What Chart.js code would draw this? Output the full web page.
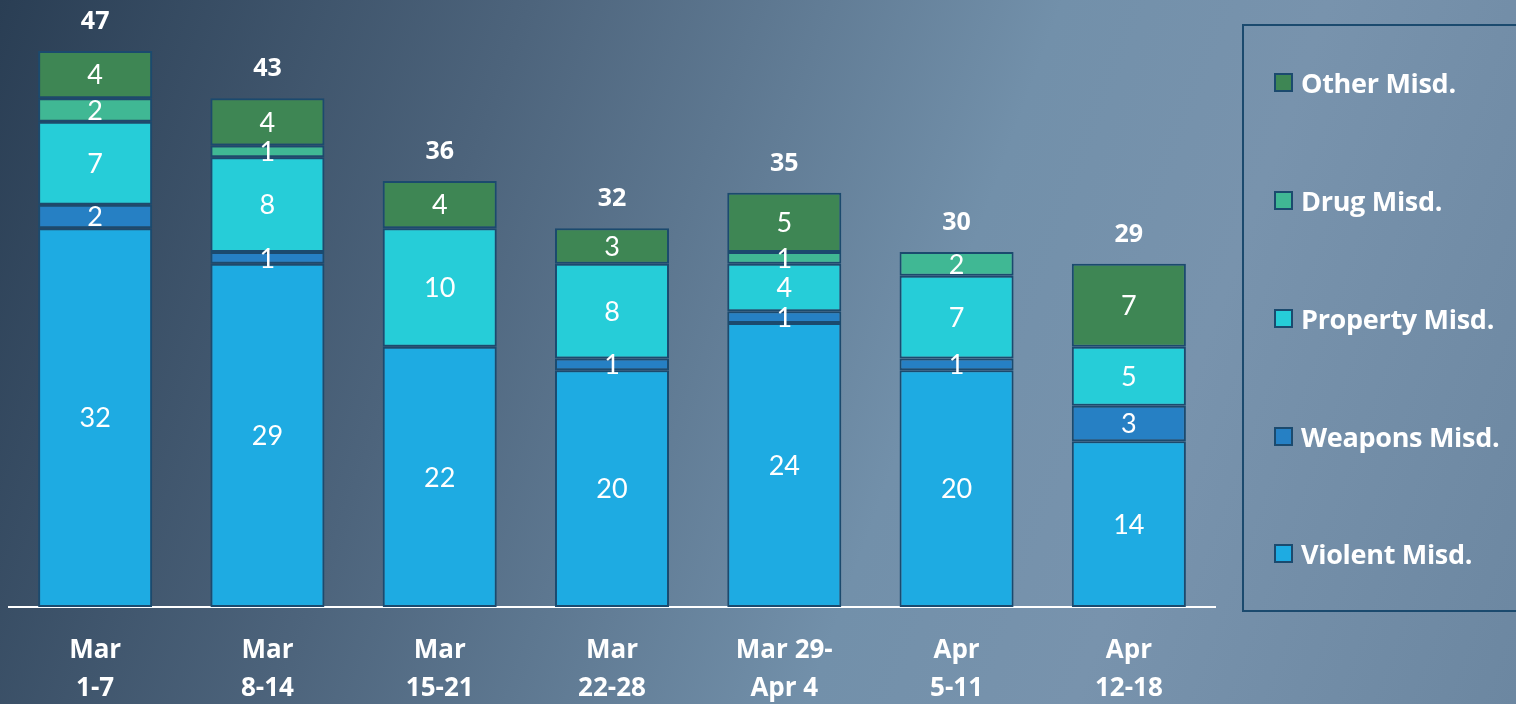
<!DOCTYPE html>
<html>
<head>
<meta charset="utf-8">
<script src="https://cdn.jsdelivr.net/npm/chart.js@4"></script>
<style>
  html, body { margin: 0; padding: 0; }
  body {
    width: 1516px; height: 704px; overflow: hidden; position: relative;
    background: linear-gradient(110deg, #2a3e54 0%, #4d647c 30%, #7290aa 60%, #7893ad 75%, #6c87a1 100%);
    font-family: "Open Sans", Lato, sans-serif;
  }
  #wrap { position: absolute; left: 0; top: 0; width: 1516px; height: 704px; }
  #legend {
    position: absolute; left: 1242px; top: 24px; width: 290px; height: 588px;
    border: 2px solid #1b4a6e; box-sizing: border-box;
  }
  .item { position: absolute; left: 30px; height: 30px; display: flex; align-items: center;
    color: #fff; font-weight: bold; font-size: 27px; white-space: nowrap; letter-spacing: -0.3px; }
  .item span.box { width: 15px; height: 15px; border: 2px solid #1b4a6e; margin-right: 8px; flex: none; }
</style>
</head>
<body>
<div id="wrap"><canvas id="chart" width="1516" height="704"></canvas></div>
<div id="legend"></div>
<script>
// weekly misdemeanor counts
const weeks = [["Mar", "1-7"], ["Mar", "8-14"], ["Mar", "15-21"], ["Mar", "22-28"], ["Mar 29-", "Apr 4"], ["Apr", "5-11"], ["Apr", "12-18"]];
const violent  = [32, 29, 22, 20, 24, 20, 14];
const weapons  = [2, 1, 0, 1, 1, 1, 3];
const property = [7, 8, 10, 8, 4, 7, 5];
const drug     = [2, 1, 0, 0, 1, 2, 0];
const other    = [4, 4, 4, 3, 5, 0, 7];

const seriesNames = ["Violent Misd.", "Weapons Misd.", "Property Misd.", "Drug Misd.", "Other Misd."];
const seriesColors = ["#1eabe2", "#2680c4", "#26cdd8", "#40b894", "#3e8654"];
const seriesData = [violent, weapons, property, drug, other];

const totals = weeks.map((w, i) => seriesData.reduce((s, arr) => s + arr[i], 0));

const font = "Lato, 'Open Sans', sans-serif";
const boldFont = "'Open Sans', Lato, sans-serif";

// draw segment values and totals
const labelPlugin = {
  id: "barLabels",
  afterDatasetsDraw(chart) {
    const ctx = chart.ctx;
    const yScale = chart.scales.y;
    ctx.save();
    ctx.fillStyle = "#fff";
    ctx.textAlign = "center";
    ctx.textBaseline = "middle";
    ctx.font = "27px " + font;
    chart.data.datasets.forEach((ds, di) => {
      const meta = chart.getDatasetMeta(di);
      meta.data.forEach((bar, i) => {
        const v = seriesData[di][i];
        if (!v) return;
        const y = (bar.y + bar.base) / 2;
        ctx.fillText(String(v), bar.x, y + 1);
      });
    });
    ctx.font = "bold 25px " + boldFont;
    const meta0 = chart.getDatasetMeta(0);
    totals.forEach((t, i) => {
      const x = meta0.data[i].x;
      const y = yScale.getPixelForValue(t) - 29;
      ctx.fillText(String(t), x, y);
    });
    ctx.restore();
  }
};

const chart = new Chart(document.getElementById("chart"), {
  type: "bar",
  data: {
    labels: weeks,
    datasets: seriesNames.map((name, k) => ({
      label: name,
      data: seriesData[k].map(v => v === 0 ? null : v),
      backgroundColor: seriesColors[k],
      borderColor: "#1b4a6e",
      borderWidth: 2,
      borderSkipped: false,
      categoryPercentage: 1,
      barPercentage: 0.662
    }))
  },
  options: {
    responsive: false,
    animation: false,
    layout: { padding: { left: 9, right: 301, top: 0, bottom: 0 } },
    plugins: { legend: { display: false }, tooltip: { enabled: false } },
    scales: {
      x: {
        stacked: true,
        z: 1,
        afterFit: (scale) => { scale.height = 97; },
        grid: { display: true, drawOnChartArea: false, drawTicks: false, color: "transparent" },
        border: { display: true, color: "#ffffff", width: 2 },
        ticks: {
          color: "#fff",
          padding: 25,
          maxRotation: 0,
          font: { family: boldFont, size: 26, weight: "bold", lineHeight: 1.46 }
        }
      },
      y: {
        stacked: true,
        display: false,
        min: 0,
        max: 51.3
      }
    }
  },
  plugins: [labelPlugin]
});

// legend box, top item is the last series
const legend = document.getElementById("legend");
const legendTops = [41, 159, 277, 395, 512];
seriesNames.slice().reverse().forEach((name, j) => {
  const k = seriesNames.length - 1 - j;
  const div = document.createElement("div");
  div.className = "item";
  div.style.top = legendTops[j] + "px";
  div.innerHTML = '<span class="box" style="background:' + seriesColors[k] + '"></span>' + name;
  legend.appendChild(div);
});
</script>
</body>
</html>
